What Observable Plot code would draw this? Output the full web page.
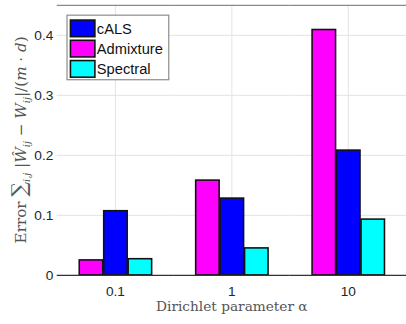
<!DOCTYPE html>
<html>
<head>
<meta charset="utf-8">
<script src="https://cdn.jsdelivr.net/npm/d3@7"></script>
<script src="https://cdn.jsdelivr.net/npm/@observablehq/plot@0.6"></script>
<style>
  html, body { margin: 0; padding: 0; background: #fff; }
  #wrap { position: relative; width: 406px; height: 324px; overflow: hidden; }
  #wrap svg g[aria-label="y-axis tick label"] text,
  #wrap svg g[aria-label="fx-axis tick label"] text {
    font-size: 14px !important; font-family: 'Liberation Sans', Arial, sans-serif !important;
  }
</style>
</head>
<body>
<div id="wrap"></div>
<script>
const alphas = ["0.1", "1", "10"];
const series = ["Admixture", "cALS", "Spectral"];       // bar order within a group
const legendOrder = ["cALS", "Admixture", "Spectral"];  // legend order
const admixture = [0.025, 0.158, 0.409];
const cals = [0.107, 0.128, 0.208];
const spectral = [0.027, 0.045, 0.093];
const colors = ["#ff00ff", "#0000ff", "#00ffff"];
const yTicks = [0, 0.1, 0.2, 0.3, 0.4];
const xLabel = "Dirichlet parameter α";

const valuesBySeries = {Admixture: admixture, cALS: cals, Spectral: spectral};
const data = [];
alphas.forEach((a, i) => series.forEach(s => data.push({alpha: a, series: s, value: valuesBySeries[s][i]})));

const sans = "'Liberation Sans', Arial, sans-serif";
const serif = "'DejaVu Serif', 'Liberation Serif', serif";

const W = 415, H = 324;
const chart = Plot.plot({
  width: W, height: H,
  marginLeft: 58, marginRight: 0, marginTop: 5, marginBottom: 43,
  style: {fontFamily: sans, fontSize: "14px", background: "#fff"},
  fx: {domain: alphas, padding: 0, label: null},
  x: {domain: series, paddingInner: 0.04, paddingOuter: 0.9, axis: null},
  y: {domain: [0, 0.45], label: null},
  color: {domain: series, range: colors},
  marks: [
    Plot.gridY({ticks: yTicks, stroke: "#e2e2e2", strokeOpacity: 1}),
    Plot.gridFx({stroke: "#e2e2e2", strokeOpacity: 1}),
    Plot.ruleY([0.45], {stroke: "#8a8a8a", strokeWidth: 1.2}),
    Plot.barY(data, {fx: "alpha", x: "series", y: "value", fill: "series", stroke: "#111", strokeWidth: 1.6}),
    Plot.ruleY([0], {stroke: "#333", strokeWidth: 1.3}),
    Plot.axisY({ticks: yTicks, tickSize: 0, tickPadding: 4, fontSize: 14, color: "#262626",
      tickFormat: d => d === 0 ? "0" : d.toFixed(1), line: true, stroke: "#8a8a8a", label: null}),
    Plot.axisFx({anchor: "bottom", tickSize: 0, tickPadding: 11, fontSize: 14, color: "#262626", label: null})
  ]
});

document.getElementById("wrap").appendChild(chart);

const svg = d3.select(chart);

// x label
svg.append("text")
  .attr("x", 237).attr("y", 318)
  .attr("text-anchor", "middle")
  .attr("font-family", serif).attr("font-size", 14).attr("fill", "#555")
  .text(xLabel);

// y label (LaTeX-like)
const yl = svg.append("text")
  .attr("transform", "translate(27,143) rotate(-90)")
  .attr("text-anchor", "middle")
  .attr("font-family", serif).attr("font-size", 15.5).attr("fill", "#555");
const parts = [
  ["Error ", {}],
  ["∑", {"font-size": 21}],
  ["i,j", {"font-style": "italic", "font-size": 10, "baseline-shift": "-4"}],
  [" |", {}],
  ["Ŵ", {"font-style": "italic"}],
  ["ij", {"font-style": "italic", "font-size": 10, "baseline-shift": "-4"}],
  [" − ", {}],
  ["W", {"font-style": "italic"}],
  ["ij", {"font-style": "italic", "font-size": 10, "baseline-shift": "-4"}],
  ["|/(", {}],
  ["m", {"font-style": "italic"}],
  [" · ", {}],
  ["d", {"font-style": "italic"}],
  [")", {}]
];
parts.forEach(([t, attrs]) => {
  const ts = yl.append("tspan").text(t);
  Object.entries(attrs).forEach(([k, v]) => ts.attr(k, v));
});

// legend
const lg = svg.append("g");
lg.append("rect").attr("x", 68.5).attr("y", 15.5).attr("width", 104).attr("height", 66)
  .attr("fill", "#fff").attr("stroke", "#8a8a8a").attr("stroke-width", 1.2);
legendOrder.forEach((s, i) => {
  const y0 = 20.5 + i * 20.7;
  lg.append("rect").attr("x", 72).attr("y", y0).attr("width", 25).attr("height", 17)
    .attr("fill", colors[series.indexOf(s)]).attr("stroke", "#111").attr("stroke-width", 1.6);
  lg.append("text").attr("x", 99).attr("y", y0 + 8.5).attr("dy", "0.35em")
    .attr("text-anchor", "start")
    .attr("font-family", sans).attr("font-size", 15).attr("fill", "#111")
    .text(s);
});
</script>
</body>
</html>
